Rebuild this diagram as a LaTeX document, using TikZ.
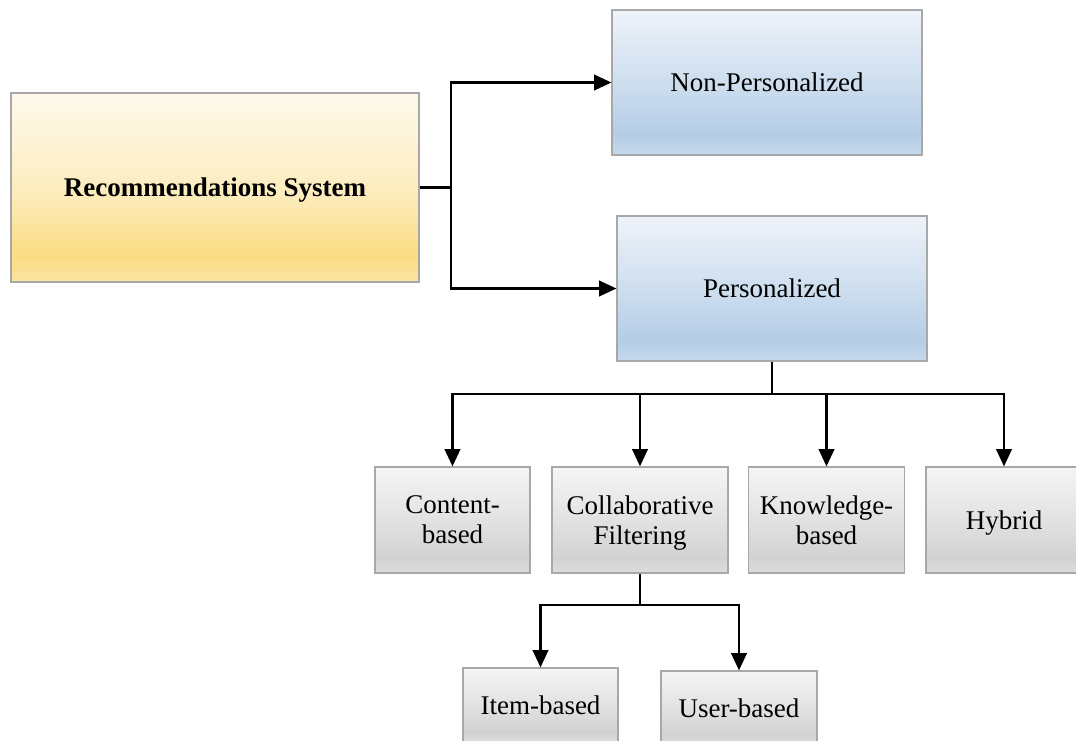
\documentclass[tikz,border=0pt]{standalone}
\usepackage{fontspec}
\setmainfont{Liberation Serif}
\usetikzlibrary{arrows.meta}

% one unit = one pixel of the layout grid
\newcommand{\pxu}{0.75pt}
\newcommand{\labelsize}{\fontsize{20.25}{22.5}\selectfont}

\definecolor{boxline}{HTML}{A8A8A8}
% vertical fills, listed from bottom (25bp) to top (75bp)
\pgfdeclareverticalshading{yellowfill}{100bp}{
  color(0bp)=({rgb,255:red,251;green,228;blue,162});
  color(25bp)=({rgb,255:red,251;green,228;blue,162});
  color(32bp)=({rgb,255:red,251;green,220;blue,130});
  color(48bp)=({rgb,255:red,252;green,236;blue,188});
  color(75bp)=({rgb,255:red,254;green,249;blue,236});
  color(100bp)=({rgb,255:red,254;green,249;blue,236})}
\pgfdeclareverticalshading{bluefill}{100bp}{
  color(0bp)=({rgb,255:red,198;green,218;blue,237});
  color(25bp)=({rgb,255:red,198;green,218;blue,237});
  color(32bp)=({rgb,255:red,180;green,205;blue,230});
  color(50bp)=({rgb,255:red,206;green,222;blue,239});
  color(75bp)=({rgb,255:red,238;green,243;blue,249});
  color(100bp)=({rgb,255:red,238;green,243;blue,249})}
\pgfdeclareverticalshading{grayfill}{100bp}{
  color(0bp)=({rgb,255:red,220;green,220;blue,220});
  color(25bp)=({rgb,255:red,220;green,220;blue,220});
  color(32bp)=({rgb,255:red,210;green,210;blue,210});
  color(50bp)=({rgb,255:red,226;green,226;blue,226});
  color(75bp)=({rgb,255:red,245;green,245;blue,245});
  color(100bp)=({rgb,255:red,245;green,245;blue,245})}

\tikzset{
  box/.style 2 args={draw=boxline, line width=0.8pt, inner sep=0pt,
    minimum width=#1*\pxu, minimum height=#2*\pxu,
    align=center, text depth=0pt, font=\labelsize},
  sysbox/.style={shading=yellowfill, font=\labelsize\bfseries},
  typebox/.style={shading=bluefill},
  leafbox/.style={shading=grayfill},
  link/.style={line width=2.1pt, black},
  arr/.style={link, -{Triangle[length=13pt,width=11.5pt]}}
}

\begin{document}
\begin{tikzpicture}[x=\pxu, y=-\pxu]
\useasboundingbox (0,0) rectangle (1076,740);
\fill[white] (0,0) rectangle (1076,740);

% top level and its two branches
\node[box={408}{189}, sysbox] (rec) at (215,187.5) {Recommendations System};
\node[box={310}{145}, typebox] (np) at (767,82.5) {Non-Personalized};
\node[box={310}{145}, typebox] (p) at (772,288.5) {Personalized};

% personalized techniques
\node[box={155}{106}, leafbox] (cb) at (452.5,520) {Content-\\based};
\node[box={176}{106}, leafbox] (cf) at (640,520) {Collaborative\\Filtering};
\node[box={156}{106}, leafbox] (kb) at (826.5,520) {Knowledge-\\based};
\node[box={156}{106}, leafbox] (hy) at (1004,520) {Hybrid};

% collaborative filtering variants
\node[box={155}{74}, leafbox] (ib) at (540.5,705) {Item-based};
\node[box={156}{74}, leafbox] (ub) at (739,708) {User-based};

% connectors
\coordinate (j1) at (451,187.5);
\draw[link] (rec.east) -- (j1);
\draw[arr] (j1) |- (np.west);
\draw[arr] (j1) |- (p.west);

\coordinate (j2) at (772,394);
\draw[link] (p.south) -- (j2);
\draw[arr] (j2) -| (cb.north);
\draw[arr] (j2) -| (cf.north);
\draw[arr] (j2) -| (kb.north);
\draw[arr] (j2) -| (hy.north);

\coordinate (j3) at (640,605);
\draw[link] (cf.south) -- (j3);
\draw[arr] (j3) -| (ib.north);
\draw[arr] (j3) -| (ub.north);
\end{tikzpicture}
\end{document}
